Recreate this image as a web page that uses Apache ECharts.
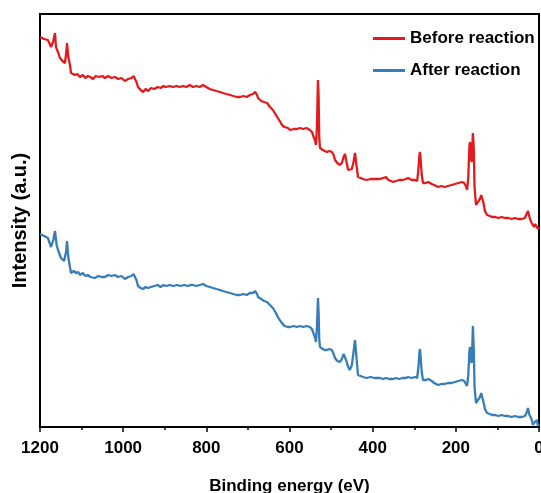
<!DOCTYPE html>
<html>
<head>
<meta charset="utf-8">
<script src="https://cdn.jsdelivr.net/npm/echarts@6/dist/echarts.min.js"></script>
<style>
html,body{margin:0;padding:0;background:#fff;}
#chart{width:541px;height:493px;}
</style>
</head>
<body>
<div id="chart"></div>
<script>
// Series names
const seriesNames = ['Before reaction', 'After reaction'];
// X axis tick values (binding energy, eV)
const xTicks = [1200, 1000, 800, 600, 400, 200, 0];

// Before reaction spectrum: [binding energy (eV), intensity (a.u.)]
const beforeReaction = [
[1200,390],[1190,388],[1181,387],[1173.5,380],[1168,386],[1164,394],[1161.5,380],[1156,374],[1152,369],[1146,366],[1140,364],[1137,374],[1135,384],[1132,370],[1128,362],[1125.4,354],[1121,356],[1116,352],[1110,353],[1104,350],[1097,352],[1091,349],[1085,351],[1079,350],[1072.5,348],[1066,351],[1058,350],[1050,351],[1044,349],[1036,351],[1028,349],[1020,350],[1012,348],[1004,349],[996,346],[988,348],[980,349],[975,351],[971.5,350],[968,345],[964.3,340],[958,337],[952,335],[946,338],[940,336],[933,339],[925,338],[917,340],[910,339],[903,341],[897,340],[888,341],[880,340],[872,341],[864,340],[856,341],[848,340],[840,342],[832,340],[824,341],[816,340],[808,342],[800,340],[792,338],[784,337],[776,336],[767,335],[760,334],[752,333],[743,332],[735,331],[727,330],[719,330],[711,331],[703,330],[695,332],[688,333],[683,335],[680.6,337],[678,332],[675.8,329],[668,326],[661,325],[654,324],[647,320],[640,317],[634,313],[628,309],[622,305],[618,302],[612,300],[604,299],[598.8,297],[590,298],[582,298],[575,299],[567,298],[559,299],[551,297],[546,295],[543.5,292],[539,287],[536.3,282],[534,300],[532.5,330],[531.5,347],[530,330],[528.5,290],[526.7,279],[520,277],[515,276],[510,275],[504,276],[498,275],[494,272],[490.6,267],[485,264],[479,262],[474,264],[470,270],[466.5,273],[463,265],[459,257],[455,255],[450,258],[446,265],[442.5,274],[439,262],[435.3,250],[429,249],[423,248],[415,247],[405,248],[396,248],[388,248],[382,248],[375,249],[368,250],[362,247],[356,246],[351,245],[344,246],[336,247],[328,247],[320,248],[315,249],[306,247],[298,247],[293,246],[290,258],[287.5,272],[286.2,275],[285,270],[282,252],[279,244],[272,244],[266,245],[262,246],[258,243],[252,242],[243,240],[235,241],[227,240],[219,241],[210,242],[202,243],[194,244],[185,245],[180,244],[176,241],[173,237],[170,250],[167.5,280],[166,285],[164,270],[162,265],[161,274],[159,294],[157,280],[155,240],[151.5,222],[147,225],[142,228],[139,232],[137,232],[134,225],[130,216],[125,212],[118,211],[113,210],[105,210],[98,209],[90,210],[82,209],[74,209],[66,208],[58,209],[50,208],[41,208],[34,209],[30,211],[26.5,216],[23,210],[19,205],[15,203],[12,200],[9,203],[5,204],[2.5,198],[0,200]
];

// After reaction spectrum: [binding energy (eV), intensity (a.u.)]
const afterReaction = [
[1200,193],[1190,191],[1181,189],[1173.5,180],[1168,187],[1164,196],[1160,182],[1156.7,177],[1149.5,169],[1142,166],[1140,165],[1137,176],[1135,186],[1132,170],[1128,160],[1125.4,154],[1119,156],[1113,154],[1108,155],[1104,152],[1097,154],[1091,151],[1085,152],[1079,150],[1068,149],[1060,151],[1052,150],[1044,150],[1036,152],[1028,151],[1020,152],[1012,150],[1004,151],[996,148],[988,150],[980,151],[975,153],[971.5,152],[968,147],[964.3,141],[958,139],[952,138],[946,140],[940,139],[933,140],[925,141],[917,142],[910,140],[903,142],[897,141],[888,142],[880,141],[870,142],[862,141],[853,142],[845,141],[838,142],[832,142],[824,141],[816,142],[808,143],[800,141],[792,140],[784,139],[776,138],[767,137],[760,136],[752,135],[743,134],[735,133],[727,132],[719,132],[711,133],[703,132],[695,134],[688,134],[683,136],[680.6,138],[678,133],[675.8,130],[668,128],[661,126],[654,125],[647,122],[640,119],[634,115],[628,110],[622,106],[618,104],[612,101],[604,100],[598.8,100],[590,101],[582,100],[575,101],[567,100],[559,101],[551,100],[546,98],[543.5,95],[539,90],[536.3,85],[534,100],[532.5,118],[531.5,129],[530,115],[528.5,88],[526.7,80],[520,78],[515,77],[510,77],[504,78],[498,77],[494,73],[490.6,69],[485,66],[479,65],[474,68],[470,73],[466.5,75],[463,66],[459,60],[455,57],[450,62],[446,75],[442.5,87],[439,70],[435.3,52],[429,51],[423,50],[415,49],[405,50],[396,49],[388,49],[382,49],[375,48],[368,49],[360,48],[351,48],[344,49],[336,48],[328,49],[320,49],[315,50],[306,49],[298,50],[293,49],[290,60],[287.5,75],[286.2,78],[285,72],[282,55],[279,47],[272,47],[266,48],[262,49],[258,46],[252,44],[243,42],[235,43],[227,43],[219,44],[210,44],[202,45],[194,46],[185,47],[180,46],[176,44],[173,41],[170,52],[167.5,75],[166,80],[164,68],[162,64],[161,72],[159,101],[157,80],[155,40],[151.5,24],[147,26],[142,30],[139,34],[137,34],[134,26],[130,18],[125,14],[118,13],[113,12],[105,12],[98,11],[90,12],[82,11],[74,11],[66,10],[58,11],[50,10],[41,10],[34,11],[30,14],[26.5,19],[23,12],[19,9],[16,5],[14.5,2],[10,5],[5,7],[2.5,1],[0,3]
];

const FONT = "'Liberation Sans', Arial, sans-serif";
const chart = echarts.init(document.getElementById('chart'), null, {renderer: 'canvas'});
chart.setOption({
  animation: false,
  backgroundColor: '#fff',
  grid: {left: 40, right: 2, top: 14, bottom: 66, outerBoundsMode: 'none', containLabel: false, show: true, borderColor: '#000', borderWidth: 2, backgroundColor: 'transparent'},
  legend: {
    data: seriesNames,
    orient: 'vertical',
    left: 373,
    top: 30,
    padding: 0,
    icon: 'rect',
    itemWidth: 32,
    itemHeight: 3,
    itemGap: 15,
    textStyle: {fontFamily: FONT, fontWeight: 'bold', fontSize: 17, color: '#000'}
  },
  xAxis: {
    type: 'value',
    inverse: true,
    min: xTicks[xTicks.length - 1],
    max: xTicks[0],
    interval: 200,
    name: 'Binding energy (eV)',
    nameLocation: 'middle',
    nameGap: 51,
    nameTextStyle: {fontFamily: FONT, fontWeight: 'bold', fontSize: 17, color: '#000'},
    axisLine: {show: true, onZero: false, lineStyle: {color: '#000', width: 2}},
    axisTick: {show: true, length: 5, lineStyle: {color: '#000', width: 1.5}},
    minorTick: {show: true, splitNumber: 2, length: 3, lineStyle: {color: '#000', width: 1.5}},
    axisLabel: {margin: 13, fontFamily: FONT, fontWeight: 'bold', fontSize: 17, color: '#000', formatter: function (v) { return String(v); }},
    splitLine: {show: false}
  },
  yAxis: {
    type: 'value',
    min: 0,
    max: 413,
    name: 'Intensity (a.u.)',
    nameLocation: 'middle',
    nameGap: 10,
    nameTextStyle: {fontFamily: FONT, fontWeight: 'bold', fontSize: 20, color: '#000'},
    axisLine: {show: true, lineStyle: {color: '#000', width: 2}},
    axisTick: {show: false},
    axisLabel: {show: false},
    splitLine: {show: false}
  },
  series: [
    {name: seriesNames[0], type: 'line', data: beforeReaction, showSymbol: false, symbol: 'none', lineStyle: {color: '#E41A1C', width: 2.3}, itemStyle: {color: '#E41A1C'}},
    {name: seriesNames[1], type: 'line', data: afterReaction, showSymbol: false, symbol: 'none', lineStyle: {color: '#377EB8', width: 2.3}, itemStyle: {color: '#377EB8'}}
  ]
});
</script>
</body>
</html>
